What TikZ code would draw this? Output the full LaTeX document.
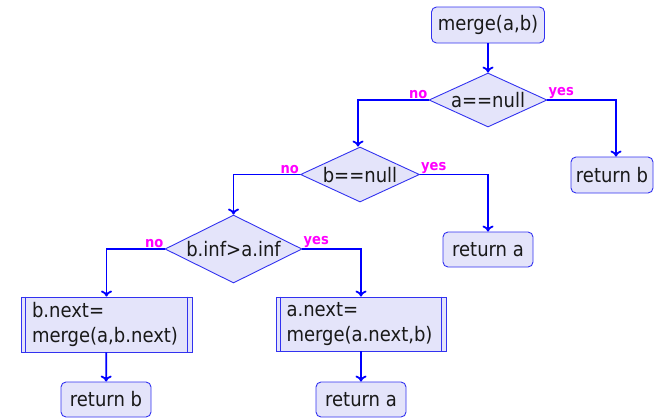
\documentclass[tikz,border=0pt]{standalone}
\usepackage{fontspec}
\setmainfont{DejaVu Sans}[FakeStretch=0.9]
\usetikzlibrary{shapes.geometric,arrows.meta}
\definecolor{nodefill}{RGB}{228,228,250}
\definecolor{nodeline}{RGB}{50,50,240}
\definecolor{flow}{RGB}{0,0,255}
\definecolor{lbl}{RGB}{255,0,255}
\tikzset{
  x=1pt, y=-1pt,
  base/.style={draw=nodeline, fill=nodefill, line width=0.9pt, text=black!90,
    font=\fontsize{20}{25}\selectfont},
  term/.style={base, rectangle, rounded corners=5pt, inner sep=0pt},
  decide/.style={base, diamond, aspect=2.2, inner sep=0pt, text height=15pt, text depth=0pt},
  proc/.style={base, rectangle, inner sep=0pt, align=left, text width=149pt},
  flowline/.style={draw=flow, line width=1.8pt, -{To[length=6pt,width=11pt]}},
  lab/.style={text=lbl, font=\bfseries\fontsize{14.5}{15}\selectfont, inner sep=1pt}
}
\begin{document}
\begin{tikzpicture}
\useasboundingbox (0,0) rectangle (655,418);
\node[term, minimum width=113pt, minimum height=36pt] (m) at (488,25) {merge(a,b)};
\node[decide, minimum width=118pt, minimum height=54pt] (d1) at (488,100) {a==null};
\node[term, minimum width=82pt, minimum height=36pt] (r1) at (612,175) {return b};
\node[decide, minimum width=119pt, minimum height=55pt] (d2) at (360,174.5) {b==null};
\node[term, minimum width=90pt, minimum height=35pt] (r2) at (488,249.5) {return a};
\node[decide, minimum width=137pt, minimum height=68pt] (d3) at (233.5,249) {b.inf>a.inf};
\node[proc, minimum width=171pt, minimum height=55pt] (p1) at (106.5,324.5) {b.next=\\merge(a,b.next)};
\node[proc, minimum width=170pt, minimum height=54pt] (p2) at (361,324) {a.next=\\merge(a.next,b)};
\node[term, minimum width=90pt, minimum height=35pt] (r3) at (106,399.5) {return b};
\node[term, minimum width=90pt, minimum height=35pt] (r4) at (361,399.5) {return a};
\foreach \p in {p1,p2}{
  \draw[draw=nodeline, line width=0.9pt] ([xshift=5pt]\p.north west) -- ([xshift=5pt]\p.south west);
  \draw[draw=nodeline, line width=0.9pt] ([xshift=-5pt]\p.north east) -- ([xshift=-5pt]\p.south east);
}
\draw[flowline] (m) -- (d1);
\draw[flowline] (d1.east) -| ([xshift=4pt]r1.north);
\draw[flowline] (d1.west) -| ([xshift=-2pt]d2.north);
\draw[flowline] (d2.east) -| (r2.north);
\draw[flowline] (d2.west) -| (d3.north);
\draw[flowline] (d3.west) -| (p1.north);
\draw[flowline] (d3.east) -| (p2.north);
\draw[flowline] (p1) -- (r3);
\draw[flowline] (p2) -- (r4);
\node[lab, anchor=south east] (n1) at (d1.west) {no};
\node[lab, anchor=south west] (y1) at (d1.east) {yes};
\node[lab, anchor=south east] (n2) at (d2.west) {no};
\node[lab, anchor=south west] (y2) at (d2.east) {yes};
\node[lab, anchor=south east] (n3) at (d3.west) {no};
\node[lab, anchor=south west] (y3) at (d3.east) {yes};
\end{tikzpicture}
\end{document}
